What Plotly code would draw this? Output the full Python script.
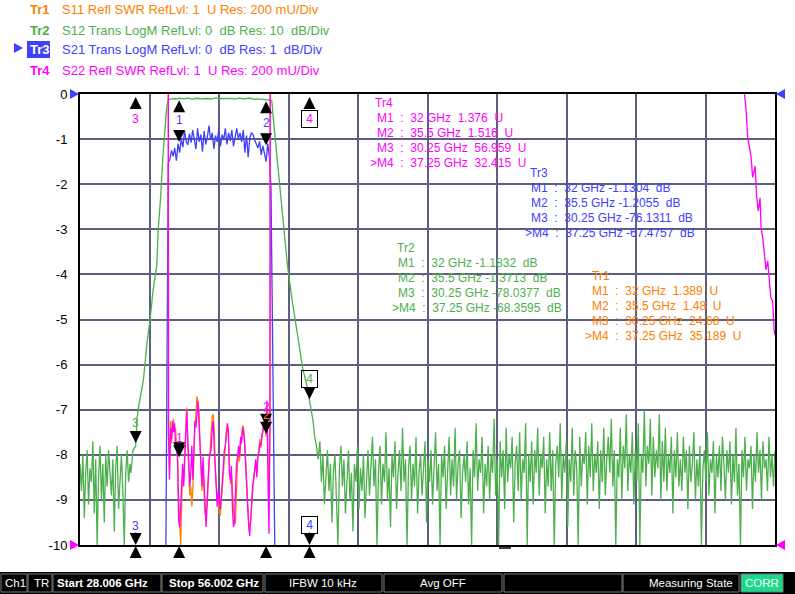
import numpy as np
import plotly.graph_objects as go

START_GHZ = 28.006
STOP_GHZ = 56.002

ORANGE = '#ff8000'
GREEN = '#4db04d'
BLUE = '#4040ff'
MAGENTA = '#ff00ff'
GRID = '#5e5e80'
FONT = 'Liberation Sans, Arial, sans-serif'

# Tr1  S11 SWR, in-band part (31.57 .. 35.66 GHz)
tr1_band_swr = [
    1.49, 1.33, 1.55, 1.45, 1.52, 1.56, 1.50, 1.52, 1.43, 1.39,
    1.20, 1.05, 1.00, 1.18, 1.34, 1.30, 1.42, 1.50, 1.61, 1.45,
    1.33, 1.22, 1.26, 1.17, 1.25, 1.40, 1.52, 1.58, 1.66, 1.63,
    1.60, 1.46, 1.30, 1.24, 1.35, 1.25, 1.14, 1.13, 1.20, 1.31,
    1.36, 1.43, 1.47, 1.57, 1.58, 1.52, 1.36, 1.28, 1.20, 1.22,
    1.14, 1.13, 1.19, 1.27, 1.35, 1.40, 1.46, 1.50, 1.53, 1.48,
    1.35, 1.27, 1.32, 1.22, 1.12, 1.09, 1.10, 1.24, 1.36, 1.41,
    1.37, 1.45, 1.47, 1.53, 1.52, 1.46, 1.38, 1.28, 1.16, 1.10,
    1.08, 1.10, 1.18, 1.26, 1.31, 1.33, 1.37, 1.32, 1.40, 1.42,
    1.47, 1.43, 1.49, 1.50, 1.53, 1.55, 1.48, 1.60, 1.40, 1.20,
    1.55,
]
tr1_out_lo_ghz = [28.006, 30.25, 31.54]
tr1_out_lo_swr = [18.0, 24.68, 9.0]
tr1_out_hi_ghz = [35.70, 37.25, 56.002]
tr1_out_hi_swr = [9.0, 35.189, 20.0]

# Tr4  S22 SWR
tr4_band_swr = [
    1.51, 1.29, 1.52, 1.47, 1.55, 1.50, 1.54, 1.44, 1.45, 1.37,
    1.11, 1.08, 1.17, 1.32, 1.36, 1.26, 1.39, 1.52, 1.60, 1.47,
    1.36, 1.26, 1.32, 1.44, 1.29, 1.44, 1.55, 1.52, 1.61, 1.64,
    1.55, 1.44, 1.32, 1.26, 1.39, 1.29, 1.19, 1.08, 1.17, 1.29,
    1.38, 1.41, 1.42, 1.51, 1.55, 1.44, 1.33, 1.26, 1.17, 1.24,
    1.21, 1.16, 1.21, 1.29, 1.33, 1.42, 1.44, 1.51, 1.54, 1.50,
    1.32, 1.29, 1.35, 1.16, 1.08, 1.11, 1.23, 1.36, 1.39, 1.44,
    1.39, 1.48, 1.45, 1.52, 1.50, 1.45, 1.36, 1.24, 1.19, 1.08,
    1.04, 1.14, 1.20, 1.27, 1.29, 1.35, 1.38, 1.30, 1.39, 1.41,
    1.45, 1.44, 1.48, 1.51, 1.54, 1.58, 1.52, 1.64, 1.29, 1.05,
    1.58,
]
tr4_out_lo_ghz = [28.006, 30.25, 31.54]
tr4_out_lo_swr = [40.0, 56.959, 9.0]
tr4_out_hi_ghz = [35.70, 37.25]
tr4_out_hi_swr = [9.0, 32.415]
tr4_tail_ghz = [54.70, 54.77, 54.83, 54.90, 55.04, 55.10, 55.20, 55.26, 55.33, 55.40,
                55.44, 55.51, 55.56, 55.64, 55.71, 55.76, 55.83, 55.91, 55.93, 55.97, 56.002]
tr4_tail_swr = [3.4, 3.0, 2.94, 2.81, 2.72, 2.63, 2.68, 2.55, 2.48, 2.54,
                2.41, 2.36, 2.29, 2.22, 2.26, 2.18, 2.10, 2.08, 2.01, 1.95, 1.93]

# Tr2  S12 LogM
tr2_floor_left_db = [
    -82, -88, -80, -94, -84, -79, -91, -83, -86, -77, -93, -81,
    -100, -85, -78, -90, -82, -95, -80, -87, -79, -84, -89, -81,
    -97, -83, -78, -92, -85, -80, -88, -100, -84, -79, -86, -82,
]
tr2_skirt_lo_ghz = [30.06, 30.14, 30.25, 30.30, 30.38, 30.49, 30.56, 30.71, 30.83,
                    30.95, 31.10, 31.16, 31.26, 31.34, 31.43, 31.50, 31.56]
tr2_skirt_lo_db = [-84, -79, -78.04, -72, -69, -65.6, -63.4, -55, -50,
                   -43.5, -38, -29.8, -22.4, -14.2, -6.9, -2.8, -1.3]
tr2_pass_db = [
    -1.2, -1.1, -1.0, -1.15, -0.95, -1.05, -1.1, -0.9, -1.0, -1.2,
    -1.0, -0.95, -1.1, -1.05, -0.9, -1.0, -1.15, -1.0, -0.85, -1.05,
    -1.0, -1.1, -0.9, -1.0, -0.95, -1.15, -1.0, -0.9, -1.05, -1.1,
    -1.0, -0.95, -1.1, -1.2, -1.1, -1.15, -1.2, -1.25, -1.3, -1.35,
]
tr2_skirt_hi_ghz = [35.73, 35.79, 35.89, 35.99, 36.10, 36.22, 36.36, 36.55, 36.79,
                    36.99, 37.14, 37.25, 37.32, 37.39, 37.46, 37.53, 37.60]
tr2_skirt_hi_db = [-1.4, -5.3, -11.3, -17.2, -23.9, -30.5, -37.9, -45.7, -54.5,
                   -61.2, -64.5, -68.36, -70, -72.3, -76, -78, -81]
tr2_floor_right_db = [
    -77, -86, -80, -91, -83, -79, -88, -82, -95, -84, -80, -89, -100, -83, -78, -87,
    -81, -93, -85, -79, -90, -84, -97, -82, -86, -78, -92, -83, -88, -80, -94, -85,
    -79, -89, -83, -76, -87, -81, -100, -84, -78, -91, -82, -86, -75, -90, -83, -96,
    -80, -85, -77, -92, -84, -79, -88, -74, -86, -81, -100, -83, -78, -90, -82, -87,
    -76, -93, -84, -80, -89, -83, -77, -95, -81, -86, -79, -91, -84, -75, -88, -82,
    -100, -80, -85, -78, -92, -83, -76, -89, -81, -87, -74, -90, -82, -79, -94, -84,
    -80, -86, -77, -91, -83, -100, -79, -85, -73, -88, -81, -84, -76, -93, -82, -87,
    -78, -90, -80, -84, -72, -89, -81, -100, -77, -85, -79, -92, -74, -86, -80, -83,
    -76, -95, -82, -78, -88, -75, -90, -81, -84, -73, -100, -80, -86, -77, -91, -79,
    -84, -74, -89, -80, -83, -76, -93, -81, -87, -75, -88, -79, -100, -82, -78, -85,
    -73, -90, -80, -84, -77, -96, -81, -86, -74, -89, -79, -83, -100, -76, -87, -80,
    -82, -75, -91, -78, -85, -73, -88, -80, -84, -77, -92, -79, -86, -74, -89, -81,
    -76, -84, -72, -87, -79, -100, -81, -85, -74, -90, -78, -83, -71, -88, -80, -84,
    -75, -91, -79, -86, -73, -100, -80, -84, -70, -87, -78, -82, -72, -89, -76, -85,
    -79, -83, -71, -90, -77, -86, -74, -88, -80, -84, -76, -93, -79, -85, -75, -87,
    -81, -88, -76, -84, -79, -92, -78, -86, -82, -75, -90, -81, -87, -78, -100, -83,
    -79, -86, -75, -89, -81, -84, -77, -93, -80, -85, -78, -88, -76, -82, -90, -79,
    -84, -77, -91, -80, -86, -74, -89, -82, -100, -79, -85, -76, -88, -81, -83, -78,
    -92, -80, -86, -75, -84, -79, -90, -77, -83, -81, -88, -76, -85, -80, -87, -79,
]

# Tr3  S21 LogM
tr3_pass_db = [
    -1.53, -1.45, -1.25, -1.38, -1.2, -1.48, -1.1, -1.3, -1.0, -1.18,
    -0.82, -1.05, -1.13, -0.88, -1.08, -0.8, -1.02, -1.22, -0.76, -1.06,
    -0.9, -1.28, -0.82, -1.12, -0.95, -0.7, -1.02, -0.86, -1.22, -0.92,
    -1.06, -0.8, -1.16, -0.9, -1.02, -0.76, -1.12, -0.86, -1.04, -0.8,
    -1.16, -0.95, -0.76, -1.0, -0.86, -1.06, -0.8, -1.3, -0.92, -1.4,
    -0.98, -0.86, -0.9, -1.02, -1.1, -1.2, -1.05, -1.35, -1.15, -1.3,
    -1.5, -1.1, -1.4, -2.1,
]
tr3_out_lo_ghz = [28.006, 30.25, 31.46]
tr3_out_lo_db = [-70.0, -76.1311, -10.6]
tr3_out_hi_ghz = [35.87, 37.25, 56.002]
tr3_out_hi_db = [-11.0, -67.4757, -75.0]

# markers
marker_names = ['M1', 'M2', 'M3', '>M4']
marker_ghz = [32.0, 35.5, 30.25, 37.25]
tr1_marker = [1.389, 1.48, 24.68, 35.189]
tr2_marker = [-1.1832, -1.3713, -78.0377, -68.3595]
tr3_marker = [-1.1304, -1.2055, -76.1311, -67.4757]
tr4_marker = [1.376, 1.516, 56.959, 32.415]

header_rows = [
    ('Tr1', 'S11 Refl SWR RefLvl: 1  U Res: 200 mU/Div', ORANGE),
    ('Tr2', 'S12 Trans LogM RefLvl: 0  dB Res: 10  dB/Div', GREEN),
    ('Tr3', 'S21 Trans LogM RefLvl: 0  dB Res: 1  dB/Div', BLUE),
    ('Tr4', 'S22 Refl SWR RefLvl: 1  U Res: 200 mU/Div', MAGENTA),
]


def sweep(f0, f1, values):
    return list(np.linspace(f0, f1, len(values)))


def px_x(x):
    return (x - 80) / 695


def px_y(y):
    return (545 - y) / 451


def nb(s):
    return s.replace('  ', '\u00a0\u00a0')


tr1_x = tr1_out_lo_ghz + sweep(31.57, 35.66, tr1_band_swr) + tr1_out_hi_ghz
tr1_y = tr1_out_lo_swr + tr1_band_swr + tr1_out_hi_swr
tr4_x = tr4_out_lo_ghz + sweep(31.57, 35.66, tr4_band_swr) + tr4_out_hi_ghz + tr4_tail_ghz
tr4_y = tr4_out_lo_swr + tr4_band_swr + tr4_out_hi_swr + tr4_tail_swr
tr2_x = (sweep(START_GHZ, 30.02, tr2_floor_left_db) + tr2_skirt_lo_ghz
         + sweep(31.60, 35.69, tr2_pass_db) + tr2_skirt_hi_ghz
         + sweep(37.67, STOP_GHZ, tr2_floor_right_db))
tr2_y = tr2_floor_left_db + tr2_skirt_lo_db + tr2_pass_db + tr2_skirt_hi_db + tr2_floor_right_db
tr3_x = tr3_out_lo_ghz + sweep(31.56, 35.70, tr3_pass_db) + tr3_out_hi_ghz
tr3_y = tr3_out_lo_db + tr3_pass_db + tr3_out_hi_db

fig = go.Figure()
fig.add_trace(go.Scatter(x=tr1_x, y=tr1_y, yaxis='y3', mode='lines',
                         line=dict(color=ORANGE, width=1.3), name='Tr1'))
fig.add_trace(go.Scatter(x=tr2_x, y=tr2_y, yaxis='y2', mode='lines',
                         line=dict(color=GREEN, width=1.3), name='Tr2'))
fig.add_trace(go.Scatter(x=tr3_x, y=tr3_y, yaxis='y', mode='lines',
                         line=dict(color=BLUE, width=1.3), name='Tr3'))
fig.add_trace(go.Scatter(x=tr4_x, y=tr4_y, yaxis='y3', mode='lines',
                         line=dict(color=MAGENTA, width=1.3), name='Tr4'))

ann = []


def arrow(x, y, yref, up=False, length=13, standoff=2):
    ann.append(dict(x=x, y=y, xref='x', yref=yref, text='', showarrow=True,
                    arrowhead=2, arrowsize=1.6, arrowwidth=1.5, arrowcolor='black',
                    ax=0, ay=length if up else -length, standoff=standoff))


def label(x, y, yref, text, color, yshift, boxed=False):
    d = dict(x=x, y=y, xref='x', yref=yref, text=text, showarrow=False,
             font=dict(family=FONT, size=12, color=color), yshift=yshift)
    if boxed:
        d.update(text='\u00a0' + text + '\u00a0', bordercolor='black', borderwidth=1, borderpad=1)
    ann.append(d)


# stimulus triangles under the x axis
for f in marker_ghz:
    arrow(f, -10, 'y', up=True, length=9, standoff=1)

# Tr2 markers
arrow(marker_ghz[0], tr2_marker[0], 'y2', up=True, length=14, standoff=1)
arrow(marker_ghz[1], tr2_marker[1], 'y2', up=True, length=14, standoff=1)
arrow(marker_ghz[2], tr2_marker[2], 'y2', length=10, standoff=3)
arrow(marker_ghz[3], tr2_marker[3], 'y2', length=12, standoff=3)
label(marker_ghz[2], tr2_marker[2], 'y2', '3', GREEN, 23)
label(marker_ghz[3], tr2_marker[3], 'y2', '4', GREEN, 23, boxed=True)
# Tr3 markers (M3/M4 below the grid)
arrow(marker_ghz[0], tr3_marker[0], 'y', length=16, standoff=3)
arrow(marker_ghz[1], tr3_marker[1], 'y', length=16, standoff=3)
label(marker_ghz[0], tr3_marker[0], 'y', '1', BLUE, 25)
label(marker_ghz[1], tr3_marker[1], 'y', '2', BLUE, 25)
for i in (2, 3):
    arrow(marker_ghz[i], max(tr3_marker[i], -10), 'y', length=14, standoff=0)
label(marker_ghz[2], -10, 'y', '3', BLUE, 19)
label(marker_ghz[3], -10, 'y', '4', BLUE, 20, boxed=True)
# Tr1 / Tr4 markers (M3/M4 above the grid)
for vals in (tr1_marker, tr4_marker):
    for i in (0, 1):
        arrow(marker_ghz[i], vals[i], 'y3', length=10, standoff=3)
label(marker_ghz[1], tr1_marker[1], 'y3', '2', ORANGE, 22)
label(marker_ghz[0], tr4_marker[0], 'y3', '1', MAGENTA, 22)
label(marker_ghz[1], tr4_marker[1], 'y3', '2', MAGENTA, 22)
for i in (2, 3):
    arrow(marker_ghz[i], min(tr4_marker[i], 3), 'y3', up=True, length=14, standoff=3)
label(marker_ghz[2], 3, 'y3', '3', MAGENTA, -25)
label(marker_ghz[3], 3, 'y3', '4', MAGENTA, -25, boxed=True)


def text(x, y, s, color='black', size=12, anchor='left', family=FONT):
    ann.append(dict(x=px_x(x), y=px_y(y), xref='paper', yref='paper', text=s,
                    showarrow=False, xanchor=anchor, yanchor='middle',
                    font=dict(family=family, size=size, color=color)))


# header
for (tr, desc, col), y in zip(header_rows, [10, 30, 50, 70]):
    text(28, y, '<b>%s</b>' % tr, 'white' if tr == 'Tr3' else col, 13)
    text(60, y, nb(desc), col, 13)

# marker tables
tables = [
    ('Tr4', MAGENTA, 'U', tr4_marker, 373, 103, 375, 368),
    ('Tr3', BLUE, 'dB', tr3_marker, 528, 173, 529, 523),
    ('Tr2', GREEN, 'dB', tr2_marker, 395, 248, 396, 390),
    ('Tr1', ORANGE, 'U', tr1_marker, 590, 276, 590, 583),
]
for name, col, unit, vals, tx, ty, rx, r4x in tables:
    text(tx, ty, name, col)
    for k, (mn, f, v) in enumerate(zip(marker_names, marker_ghz, vals)):
        sep = '  ' if v >= 0 else ' '
        row = '%s  :  %g GHz%s%g  %s' % (mn, f, sep, v, unit)
        text(r4x if mn.startswith('>') else rx, ty + 15 * (k + 1), nb(row), col)

# status bar
SF = 11.5
text(3, 583, 'Ch1', 'white', SF)
text(32, 583, 'TR', 'white', SF)
text(55, 583, '<b>Start 28.006 GHz</b>', 'white', SF)
text(261, 583, '<b>Stop 56.002 GHz</b>', 'white', SF, 'right')
text(323, 583, 'IFBW 10 kHz', 'white', SF, 'center')
text(443, 583, 'Avg OFF', 'white', SF, 'center')
text(735, 583, 'Measuring State', 'white', SF, 'right')
text(762, 583, 'CORR', 'white', SF, 'center')

shapes = [
    dict(type='rect', xref='paper', yref='paper', x0=px_x(0), x1=px_x(795),
         y0=px_y(572), y1=px_y(594), fillcolor='black', line=dict(width=0), layer='below'),
    dict(type='rect', xref='paper', yref='paper', x0=px_x(27), x1=px_x(50),
         y0=px_y(41), y1=px_y(58), fillcolor=BLUE, line=dict(width=0), layer='below'),
    dict(type='line', xref='paper', yref='paper', x0=px_x(499), x1=px_x(511),
         y0=px_y(548), y1=px_y(548), line=dict(color='black', width=1.5)),
]
for x0, x1 in [(1, 27), (28, 52), (53, 161), (162, 263), (265, 382), (384, 502),
               (504, 622), (623, 739), (741, 783)]:
    shapes.append(dict(type='rect', xref='paper', yref='paper', x0=px_x(x0), x1=px_x(x1),
                       y0=px_y(574), y1=px_y(592), line=dict(color='#7a7a7a', width=1),
                       fillcolor='#19d98a' if x0 == 741 else 'rgba(0,0,0,0)', layer='below'))


def tri(x, y, color, right=True):
    p = 'M -9 5 L 0 0 L -9 -5 Z' if right else 'M 9 5 L 0 0 L 9 -5 Z'
    shapes.append(dict(type='path', xref='paper', yref='paper', xsizemode='pixel',
                       ysizemode='pixel', xanchor=px_x(x), yanchor=px_y(y), path=p,
                       fillcolor=color, line=dict(width=0)))


tri(79, 94, BLUE)
tri(79, 545, MAGENTA)
tri(776, 94, BLUE, right=False)
tri(776, 545, MAGENTA, right=False)
tri(23, 48, BLUE)

fig.update_layout(
    width=795, height=594,
    margin=dict(l=80, r=20, t=94, b=49),
    paper_bgcolor='white', plot_bgcolor='white',
    showlegend=False,
    font=dict(family=FONT),
    xaxis=dict(range=[START_GHZ, STOP_GHZ], tick0=START_GHZ, dtick=(STOP_GHZ - START_GHZ) / 10,
               showticklabels=False, showgrid=True, gridcolor=GRID, gridwidth=1.5,
               zeroline=False, showline=True, linecolor='black', linewidth=2, mirror=True,
               ticks=''),
    yaxis=dict(range=[-10, 0], tickvals=list(range(-10, 1)),
               ticktext=[str(v) for v in range(-10, 1)],
               showgrid=True, gridcolor=GRID, gridwidth=1.5, zeroline=False,
               showline=True, linecolor='black', linewidth=2, mirror=True, ticks='',
               tickfont=dict(family=FONT, size=13, color='black'), ticklabelstandoff=8),
    yaxis2=dict(range=[-100, 0], overlaying='y', visible=False),
    yaxis3=dict(range=[1, 3], overlaying='y', visible=False),
    annotations=ann,
    shapes=shapes,
)

fig.write_html('out.html', config={'displayModeBar': False},
               post_script="document.body.style.margin='0';document.body.style.overflow='hidden';")
